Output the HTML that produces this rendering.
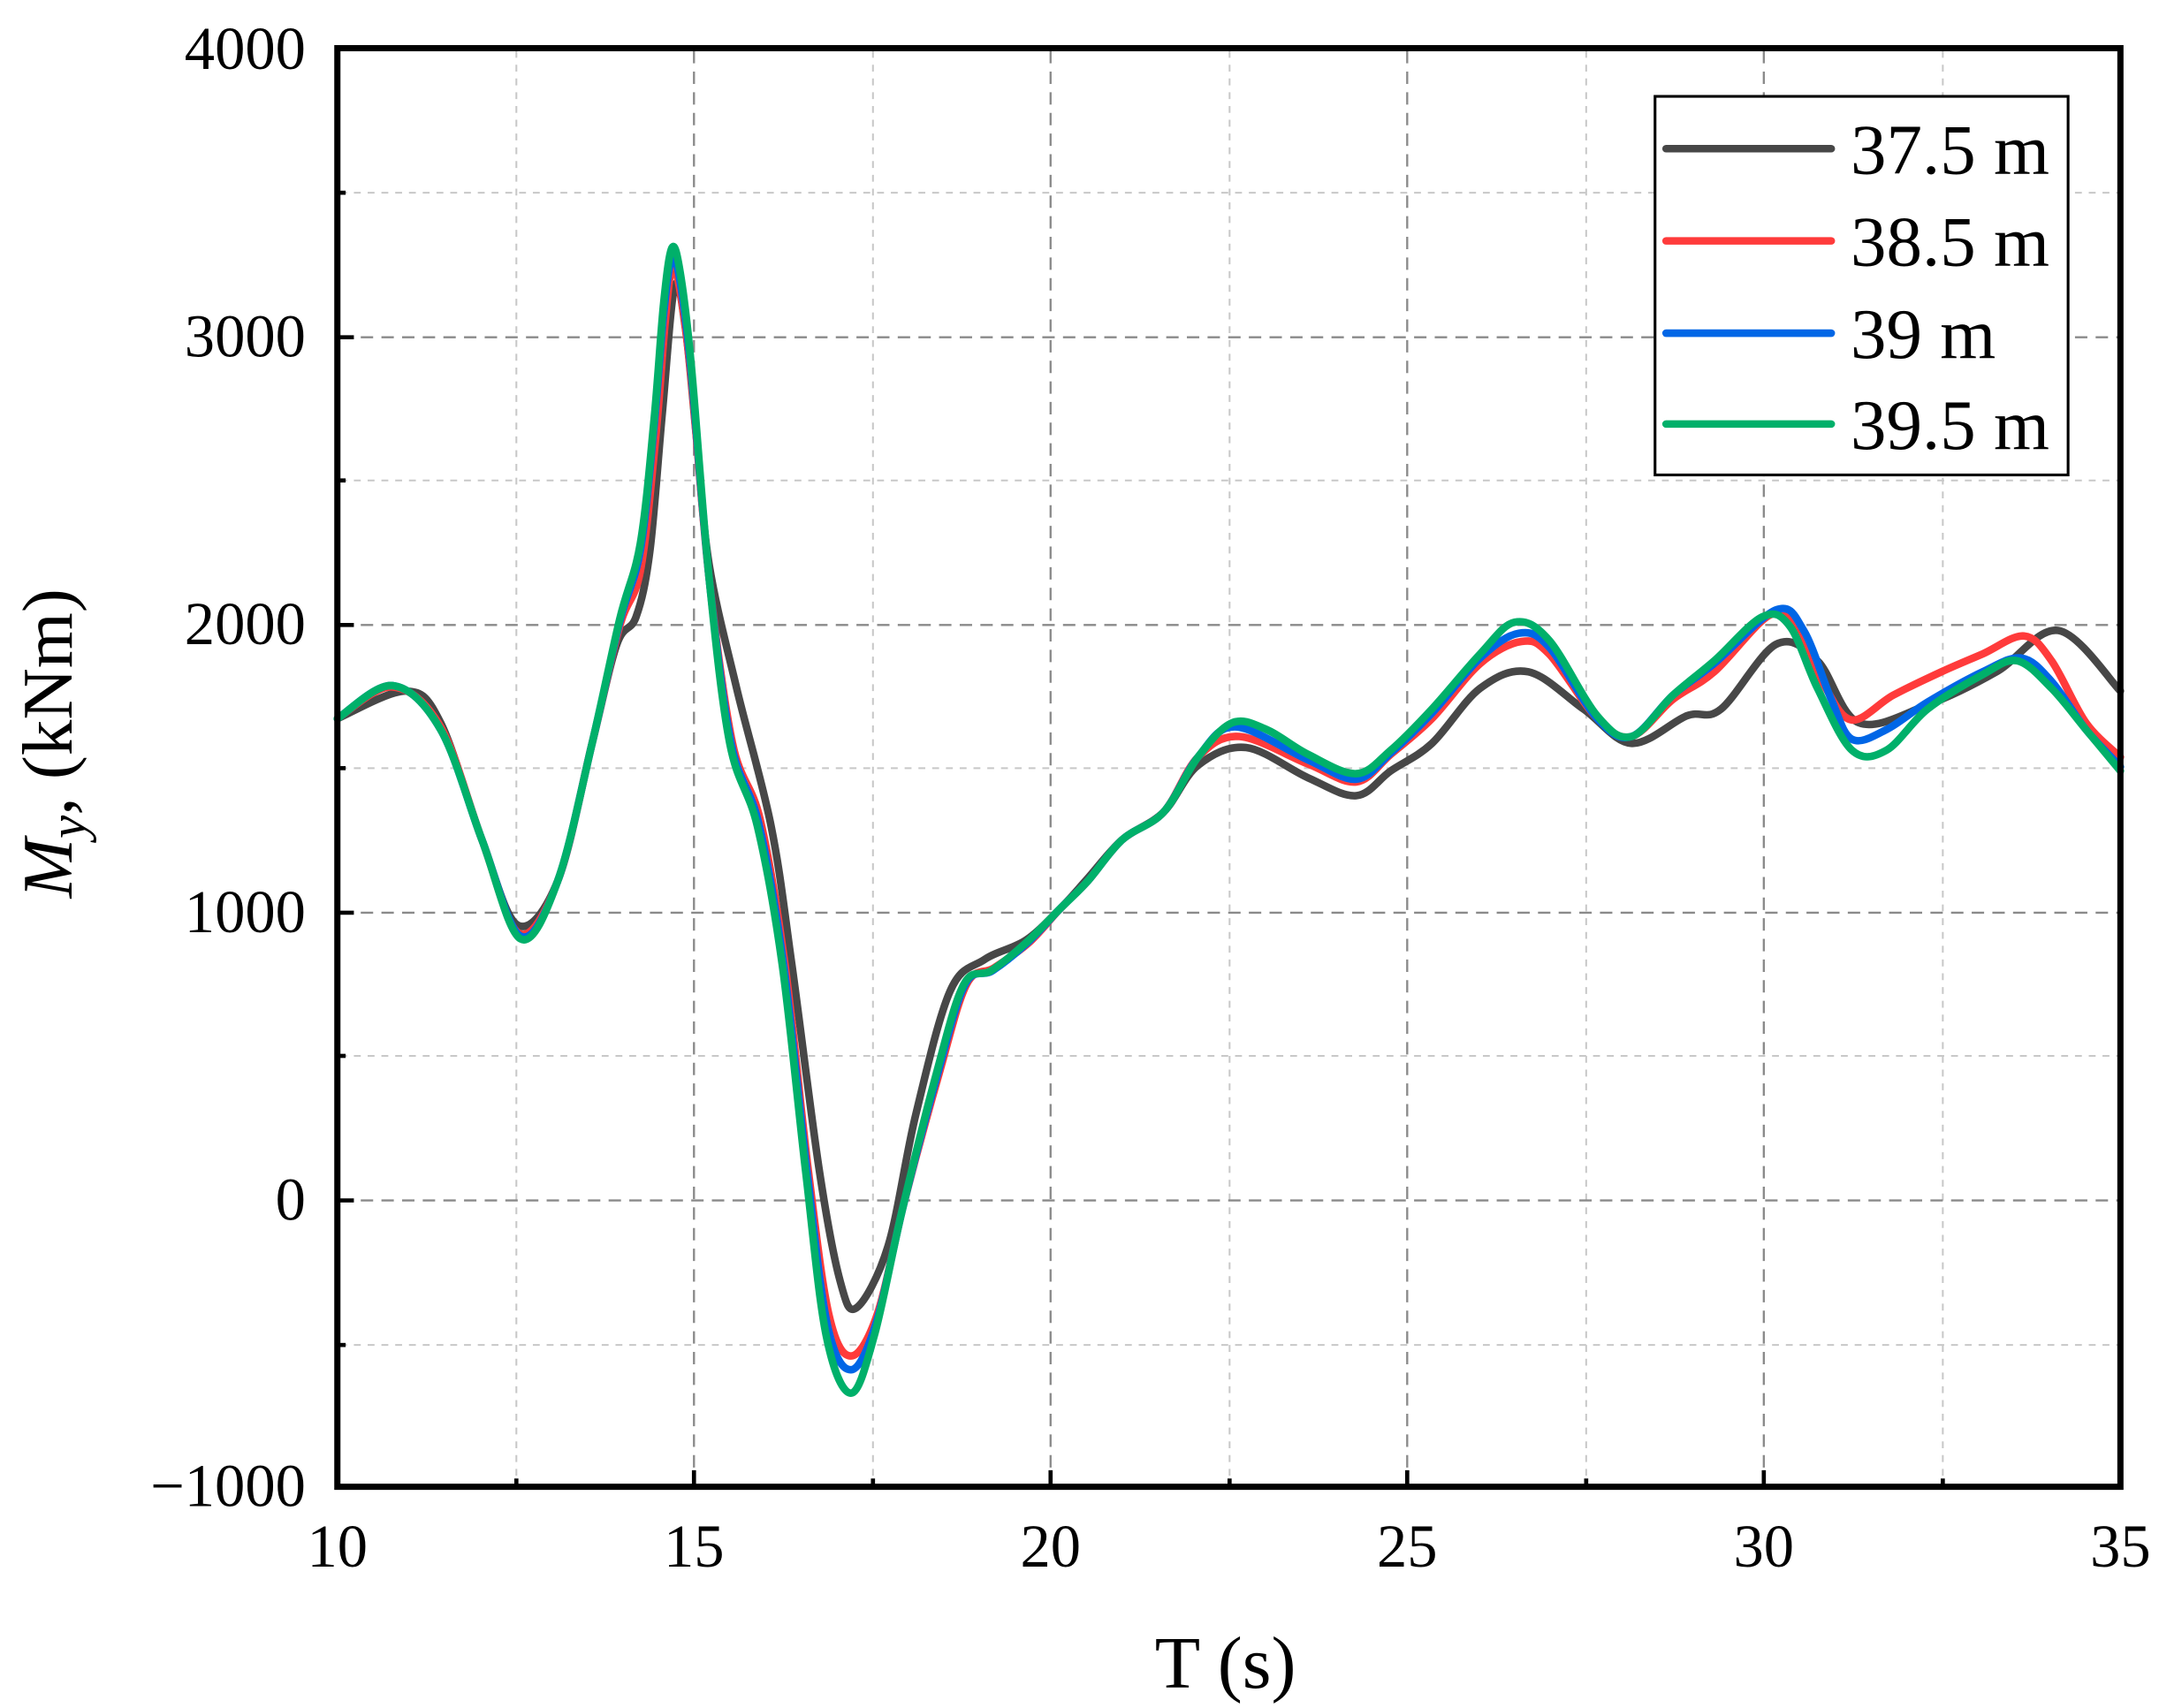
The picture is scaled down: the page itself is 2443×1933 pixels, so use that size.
<!DOCTYPE html>
<html><head><meta charset="utf-8"><style>html,body{margin:0;padding:0;background:#fff}svg{display:block}</style></head>
<body>
<svg id="s" width="2443" height="1933" viewBox="0 0 1568 1240.7" xmlns="http://www.w3.org/2000/svg" font-family="Liberation Serif, serif">
<rect width="1568" height="1241" fill="#fff"/>
<g stroke="#c8c8c8" stroke-width="1.3" stroke-dasharray="5,5">
<line x1="375" y1="37" x2="375" y2="1078"/><line x1="634" y1="37" x2="634" y2="1078"/><line x1="893" y1="37" x2="893" y2="1078"/><line x1="1152" y1="37" x2="1152" y2="1078"/><line x1="1411" y1="37" x2="1411" y2="1078"/>
<line x1="247" y1="140" x2="1538" y2="140"/><line x1="247" y1="349" x2="1538" y2="349"/><line x1="247" y1="558" x2="1538" y2="558"/><line x1="247" y1="767" x2="1538" y2="767"/><line x1="247" y1="977" x2="1538" y2="977"/>
</g>
<g stroke="#8a8a8a" stroke-width="1.5" stroke-dasharray="9,6">
<line x1="504" y1="37" x2="504" y2="1078"/><line x1="763" y1="37" x2="763" y2="1078"/><line x1="1022" y1="37" x2="1022" y2="1078"/><line x1="1281" y1="37" x2="1281" y2="1078"/>
<line x1="247" y1="245" x2="1538" y2="245"/><line x1="247" y1="454" x2="1538" y2="454"/><line x1="247" y1="663" x2="1538" y2="663"/><line x1="247" y1="872" x2="1538" y2="872"/>
</g>
<g id="curves" fill="none" stroke-width="5.5" stroke-linejoin="round" stroke-linecap="round"></g>
<g stroke="#000" stroke-width="3">
<line x1="504" y1="1080" x2="504" y2="1068"/><line x1="763" y1="1080" x2="763" y2="1068"/><line x1="1022" y1="1080" x2="1022" y2="1068"/><line x1="1281" y1="1080" x2="1281" y2="1068"/>
<line x1="375" y1="1080" x2="375" y2="1074"/><line x1="634" y1="1080" x2="634" y2="1074"/><line x1="893" y1="1080" x2="893" y2="1074"/><line x1="1152" y1="1080" x2="1152" y2="1074"/><line x1="1411" y1="1080" x2="1411" y2="1074"/>
<line x1="245" y1="245" x2="257" y2="245"/><line x1="245" y1="454" x2="257" y2="454"/><line x1="245" y1="663" x2="257" y2="663"/><line x1="245" y1="872" x2="257" y2="872"/>
<line x1="245" y1="140" x2="251" y2="140"/><line x1="245" y1="349" x2="251" y2="349"/><line x1="245" y1="558" x2="251" y2="558"/><line x1="245" y1="767" x2="251" y2="767"/><line x1="245" y1="977" x2="251" y2="977"/>
</g>
<rect x="245" y="35" width="1295" height="1045" fill="none" stroke="#000" stroke-width="4.5"/>
<g font-size="44" text-anchor="end" fill="#000">
<text x="222" y="50">4000</text><text x="222" y="259">3000</text><text x="222" y="468">2000</text><text x="222" y="677">1000</text><text x="222" y="886">0</text><text x="222" y="1094">−1000</text>
</g>
<g font-size="44" text-anchor="middle" fill="#000">
<text x="245" y="1138">10</text><text x="504" y="1138">15</text><text x="763" y="1138">20</text><text x="1022" y="1138">25</text><text x="1281" y="1138">30</text><text x="1540" y="1138">35</text>
</g>
<text x="890" y="1226" font-size="54" text-anchor="middle">T (s)</text>
<text transform="translate(52,540) rotate(-90)" font-size="52" text-anchor="middle"><tspan font-style="italic">M</tspan><tspan font-style="italic" font-size="38" dy="10">y</tspan><tspan dy="-10">, (kNm)</tspan></text>
<rect x="1202" y="70" width="300" height="275" fill="#fff" stroke="#000" stroke-width="2"/>
<g stroke-width="5.5" stroke-linecap="round">
<line x1="1210" y1="108" x2="1330" y2="108" stroke="#474747"/>
<line x1="1210" y1="175" x2="1330" y2="175" stroke="#ff3b3b"/>
<line x1="1210" y1="242" x2="1330" y2="242" stroke="#0066e6"/>
<line x1="1210" y1="308" x2="1330" y2="308" stroke="#00b06a"/>
</g>
<g font-size="52" fill="#000">
<text x="1344" y="126">37.5 m</text><text x="1344" y="193">38.5 m</text><text x="1344" y="260">39 m</text><text x="1344" y="326">39.5 m</text>
</g>
</svg>
<script>
var S={
gray:["#474747",[[245,522],[295,502],[320,525],[350,610],[376,672],[405,640],[430,540],[448,468],[462,448],[472,400],[481,300],[490,208],[498,240],[506,320],[515,410],[535,500],[560,600],[575,700],[595,850],[610,930],[622,950],[645,905],[665,810],[690,720],[715,697],[745,683],[770,660],[790,638],[815,610],[845,590],[870,556],[905,543],[950,565],[985,578],[1010,560],[1040,540],[1075,500],[1110,488],[1150,515],[1185,540],[1225,520],[1250,515],[1290,468],[1320,480],[1350,525],[1400,512],[1450,488],[1495,458],[1540,502]]],
red:["#ff3b3b",[[245,522],[285,499],[320,528],[350,610],[377,678],[405,640],[430,540],[450,455],[465,415],[476,320],[483,235],[488,195],[494,212],[502,275],[515,420],[532,540],[552,595],[570,700],[587,850],[602,955],[618,985],[637,955],[657,872],[682,780],[702,715],[722,703],[747,685],[770,660],[790,640],[815,610],[845,590],[870,550],[900,535],[950,555],[985,568],[1010,548],[1040,522],[1075,482],[1105,466],[1125,475],[1160,522],[1185,535],[1215,508],[1245,488],[1285,447],[1305,455],[1325,498],[1345,523],[1375,505],[1410,488],[1440,475],[1470,462],[1490,480],[1515,525],[1540,550]]],
blue:["#0066e6",[[245,522],[285,498],[320,530],[350,610],[378,680],[405,640],[430,540],[450,452],[465,400],[475,310],[482,228],[488,187],[494,205],[502,270],[515,420],[531,540],[551,598],[569,700],[586,850],[601,963],[618,995],[636,962],[656,876],[681,780],[701,715],[721,705],[746,685],[770,660],[790,640],[815,610],[845,590],[870,550],[897,528],[950,552],[985,566],[1010,547],[1040,518],[1075,478],[1103,460],[1125,470],[1160,522],[1185,535],[1215,505],[1245,482],[1290,443],[1310,458],[1330,508],[1345,537],[1370,530],[1400,510],[1440,488],[1468,478],[1490,495],[1515,530],[1540,557]]],
green:["#00b06a",[[245,522],[285,498],[320,530],[350,610],[378,682],[405,640],[430,540],[450,450],[465,395],[475,305],[482,220],[488,180],[494,198],[502,265],[515,420],[530,540],[550,600],[568,700],[585,850],[600,970],[618,1012],[635,970],[655,880],[680,780],[700,715],[720,705],[745,685],[770,660],[790,640],[815,610],[845,590],[870,550],[895,525],[920,530],[950,548],[985,562],[1010,545],[1040,515],[1075,475],[1100,452],[1125,465],[1160,520],[1185,535],[1215,505],[1245,480],[1280,448],[1300,455],[1320,500],[1345,545],[1370,545],[1400,515],[1440,490],[1465,480],[1490,500],[1515,530],[1540,560]]]};
function path(p){var d="M"+p[0][0]+","+p[0][1];for(var i=0;i<p.length-1;i++){var a=p[Math.max(i-1,0)],b=p[i],c=p[i+1],e=p[Math.min(i+2,p.length-1)];
d+=" C"+(b[0]+(c[0]-a[0])/6)+","+(b[1]+(c[1]-a[1])/6)+" "+(c[0]-(e[0]-b[0])/6)+","+(c[1]-(e[1]-b[1])/6)+" "+c[0]+","+c[1];}return d;}
var g=document.getElementById("curves");
["gray","red","blue","green"].forEach(function(k){var el=document.createElementNS("http://www.w3.org/2000/svg","path");el.setAttribute("d",path(S[k][1]));el.setAttribute("stroke",S[k][0]);g.appendChild(el);});
</script>
</body></html>
